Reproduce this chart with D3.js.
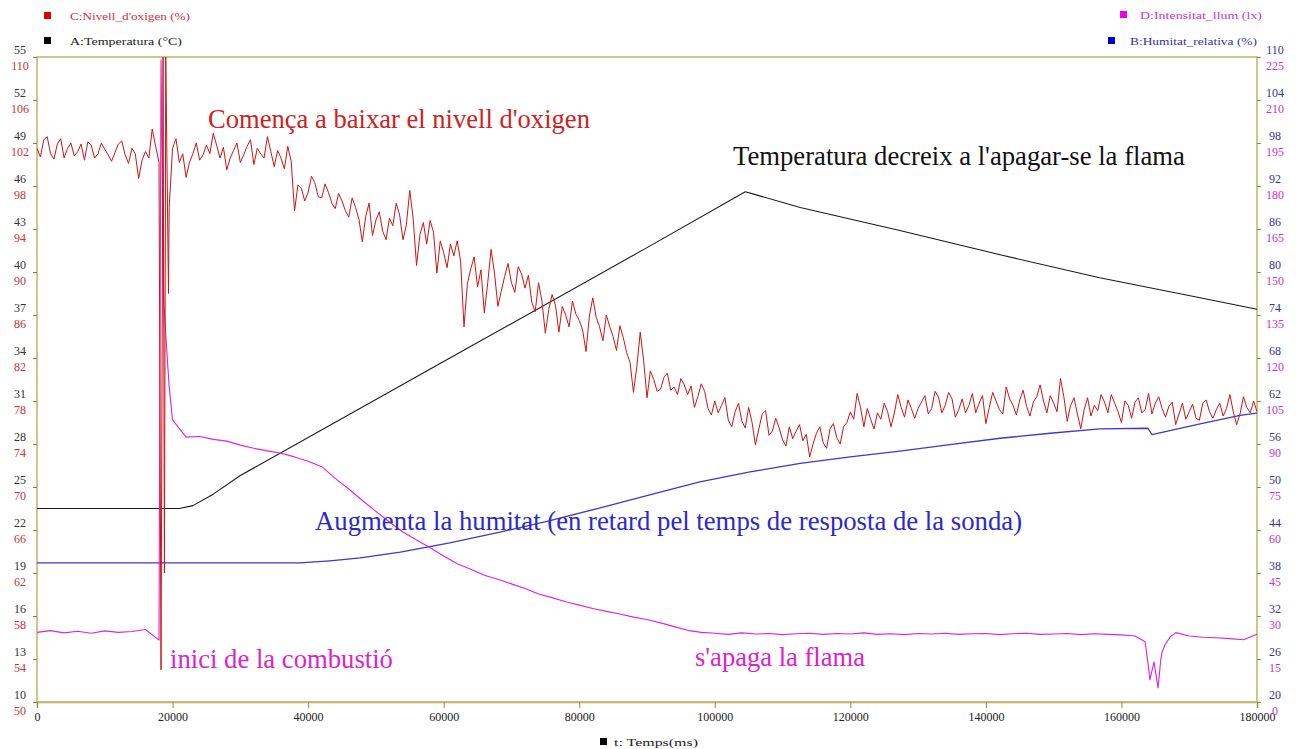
<!DOCTYPE html>
<html>
<head>
<meta charset="utf-8">
<title>Combustió d'una espelma</title>
<script src="https://d3js.org/d3.v7.min.js"></script>
<style>
  body { margin: 0; background: #fff; }
  svg { display: block; }
  .tick text { font-family: "Liberation Serif", serif; font-size: 12px; }
  .note { font-family: "Liberation Serif", "Times New Roman", serif; }
  .legend { font-family: "Liberation Serif", serif; font-size: 11px; }
</style>
</head>
<body>
<div id="chart"></div>
<script>
// ---- dades ----
var timeTicks = [0, 20000, 40000, 60000, 80000, 100000, 120000, 140000, 160000, 180000];
var tempTicks = [10, 13, 16, 19, 22, 25, 28, 31, 34, 37, 40, 43, 46, 49, 52, 55];
var oxyTicks  = [50, 54, 58, 62, 66, 70, 74, 78, 82, 86, 90, 94, 98, 102, 106, 110];
var humTicks  = [20, 26, 32, 38, 44, 50, 56, 62, 68, 74, 80, 86, 92, 98, 104, 110];
var luxTicks  = [0, 15, 30, 45, 60, 75, 90, 105, 120, 135, 150, 165, 180, 195, 210, 225];

// C: nivell d'oxigen (%), mostres a cada segon sencer
var oxyStep = 1000;
var oxygen = [
  101.5, 102.3, 101.0, 101.9, 100.6, 102.0, 101.2, 100.4, 101.8, 101.0,
  101.4, 100.3, 101.9, 100.9, 101.5, 98.7, 101.2, 103.3, 100.2, 110.0,
  101.5, 100.2, 98.8, 101.0, 100.4, 101.8, 102.9, 100.6, 99.5, 101.3,
  100.2, 101.7, 100.0, 101.0, 102.6, 99.8, 100.6, 101.7, 95.7, 97.8,
  97.4, 98.3, 96.9, 97.4, 95.9, 96.6, 95.1, 96.0, 92.8, 96.4,
  94.8, 93.8, 95.0, 96.4, 93.0, 97.6, 90.6, 94.6, 94.8, 89.9,
  91.8, 92.6, 92.9, 84.9, 90.3, 88.6, 86.2, 92.1, 86.8, 89.6,
  89.0, 90.5, 88.5, 87.2, 89.0, 84.3, 87.9, 84.4, 86.0, 87.3,
  85.5, 82.6, 87.6, 84.9, 86.0, 84.0, 85.0, 82.5, 78.8, 84.4,
  78.3, 80.0, 79.1, 80.6, 79.3, 80.1, 78.6, 77.4, 79.6, 77.3,
  78.0, 77.6, 76.2, 77.0, 76.1, 77.4, 73.9, 76.8, 74.8, 76.4,
  74.4, 75.6, 75.2, 74.3, 72.8, 75.0, 74.1, 75.4, 74.6, 75.6,
  77.0, 78.7, 75.6, 76.3, 76.9, 77.8, 75.6, 78.6, 76.5, 77.3,
  77.3, 78.5, 77.3, 78.4, 77.6, 78.2, 77.2, 76.9, 78.7, 77.8,
  75.9, 78.8, 77.2, 79.3, 77.6, 78.1, 77.5, 77.9, 79.5, 76.9,
  77.8, 80.1, 76.1, 78.3, 75.4, 78.3, 77.6, 78.6, 76.9, 77.8,
  76.0, 77.6, 77.9, 76.9, 78.7, 77.8, 77.3, 77.5, 75.8, 77.8,
  77.0, 76.4, 77.8, 77.0, 77.2, 76.6, 78.6, 75.8, 78.4, 76.9, 77.0
];
// mostres a cada mig segon (500, 1500, ...)
var oxygenHalf = [
  100.7, 102.6, 100.5, 102.4, 101.5, 100.8, 101.9, 102.1, 100.6, 102.0,
  100.9, 101.1, 102.2, 100.1, 101.0, 100.4, 100.6, 101.7, 90.0, 96.0,
  102.4, 101.0, 100.2, 102.0, 100.9, 101.0, 101.8, 101.6, 100.6, 102.0,
  100.9, 102.3, 101.5, 100.6, 101.2, 101.3, 99.6, 100.3, 98.1, 96.6,
  98.9, 97.0, 98.2, 96.4, 97.3, 95.7, 96.9, 94.9, 95.2, 93.4,
  95.6, 93.0, 94.3, 95.3, 94.4, 95.0, 93.5, 92.6, 93.7, 92.9,
  90.4, 91.5, 91.0, 88.9, 91.4, 90.2, 89.0, 89.9, 88.2, 90.8,
  88.1, 89.8, 89.7, 86.3, 87.3, 86.5, 86.9, 86.8, 84.9, 86.1,
  84.6, 85.9, 85.8, 83.6, 84.9, 82.7, 83.9, 81.6, 81.2, 81.8,
  80.8, 78.9, 80.2, 79.0, 78.6, 79.5, 79.4, 78.4, 78.9, 76.7,
  76.9, 78.3, 75.6, 77.8, 75.5, 76.0, 75.4, 77.1, 75.2, 75.5,
  73.8, 74.5, 75.8, 74.9, 74.0, 75.6, 73.6, 75.9, 74.0, 76.0,
  76.3, 77.4, 77.3, 75.4, 76.3, 77.0, 76.9, 77.4, 78.1, 76.4,
  77.9, 76.8, 78.9, 76.9, 78.8, 76.5, 78.2, 77.6, 76.9, 78.5,
  77.4, 78.0, 76.8, 78.2, 76.7, 79.0, 76.6, 78.4, 78.0, 78.5,
  77.0, 78.4, 77.6, 76.8, 77.2, 76.6, 77.1, 77.9, 78.6, 77.0,
  78.0, 76.4, 78.3, 77.2, 76.8, 78.4, 76.5, 77.9, 76.8, 76.3,
  77.7, 76.2, 78.1, 76.4, 77.8, 77.3, 77.0, 76.8, 77.4, 78.0
];
// mostres addicionals a l'inici de la combustió
var oxySpikeT = [18300, 18600, 18800, 19400];
var oxySpikeV = [53.0, 110.0, 62.0, 88.0];

// D: intensitat de llum (lx), una mostra cada 2 s
var lightStep = 2000;
var light = [
  24.3, 24.9, 24.1, 24.7, 24.0, 24.8, 24.3, 24.6, 25.3, 21.6,
  98.4, 92.4, 92.6, 91.6, 91.0, 89.6, 88.5, 87.6, 86.8, 85.5,
  84.0, 82.1, 78.0, 74.3, 70.3, 66.5, 62.8, 59.3, 56.5, 53.8,
  50.9, 48.2, 46.3, 44.2, 42.8, 41.2, 39.6, 37.7, 36.4, 35.0,
  33.8, 32.6, 31.6, 30.7, 29.6, 28.8, 27.6, 26.3, 25.0, 24.3,
  24.0, 23.6, 24.1, 23.7, 23.9, 23.5, 23.8, 24.0, 23.6, 23.9,
  23.7, 24.1, 23.6, 23.8, 23.5, 23.9, 23.7, 24.0, 23.6, 23.8,
  23.9, 23.5, 23.8, 24.0, 23.6, 23.7, 23.9, 23.5, 23.8, 23.6,
  23.4, 23.0, 12.0, 17.5, 24.2, 23.0, 22.6, 22.4, 22.1, 21.7, 23.6
];
var lightExtraT = [18300, 18700, 19000, 19500, 163500, 164200, 164800, 165400, 165800, 166400, 167200];
var lightExtraV = [224.0, 140.0, 128.0, 110.0, 21.0, 7.7, 14.0, 4.9, 14.7, 19.9, 22.7];

// A: temperatura (°C)
var tempT = [0, 21000, 23000, 26000, 30000, 60000, 90000, 104500, 106000, 112600, 127300, 142100, 156800, 171600, 180000];
var tempV = [23.5, 23.5, 23.7, 24.5, 25.8, 33.75, 41.7, 45.6, 45.4, 44.5, 42.9, 41.2, 39.6, 38.2, 37.4];

// B: humitat relativa (%)
var humT = [0, 38800, 43200, 47700, 53600, 60900, 68300, 75700, 83100, 90400, 97800, 105200,
            112600, 120000, 127300, 134700, 142100, 149500, 156800, 163900, 164500, 171600, 177500, 180000];
var humV = [39.4, 39.4, 39.7, 40.1, 40.9, 42.2, 43.7, 45.3, 47.1, 48.9, 50.7, 52.1,
            53.3, 54.2, 55.0, 55.9, 56.8, 57.5, 58.1, 58.2, 57.3, 58.8, 60.0, 60.3];

// ---- dibuix ----
var width = 1296, height = 749;
var plotLeft = 37, plotRight = 1257, plotTop = 57, plotBottom = 702;
var axisColor = "#bdb56a";

var svg = d3.select("#chart").append("svg")
    .attr("width", width)
    .attr("height", height);

var x = d3.scaleLinear().domain([0, 180000]).range([plotLeft, plotRight]);
var yTemp = d3.scaleLinear().domain([10, 55]).range([plotBottom, plotTop]);
var yOxy = d3.scaleLinear().domain([50, 110]).range([plotBottom, plotTop]);
var yHum = d3.scaleLinear().domain([20, 110]).range([plotBottom, plotTop]);
var yLux = d3.scaleLinear().domain([0, 225]).range([plotBottom, plotTop]);

function grid(values, start, step) {
  return values.map(function(v, i) { return [start + i * step, v]; });
}
function pairs(ts, vs) { return ts.map(function(t, i) { return [t, vs[i]]; }); }
function byTime(a, b) { return a[0] - b[0]; }

var oxyData = grid(oxygen, 0, oxyStep)
    .concat(grid(oxygenHalf, oxyStep / 2, oxyStep))
    .concat(pairs(oxySpikeT, oxySpikeV))
    .sort(byTime);
var lightData = grid(light, 0, lightStep)
    .concat(pairs(lightExtraT, lightExtraV))
    .sort(byTime);

// marc
svg.append("rect")
   .attr("x", plotLeft).attr("y", plotTop)
   .attr("width", plotRight - plotLeft).attr("height", plotBottom - plotTop)
   .attr("fill", "none")
   .attr("stroke", axisColor)
   .attr("stroke-width", 1.5);

// eix x
var gx = svg.append("g")
   .attr("transform", "translate(0," + plotBottom + ")")
   .call(d3.axisBottom(x).tickValues(timeTicks).tickSize(6).tickFormat(d3.format("d")));
gx.select(".domain").attr("stroke", axisColor).attr("stroke-width", 1.5);
gx.selectAll(".tick line").attr("stroke", "#8d8745");
gx.selectAll(".tick text").attr("fill", "#222").attr("y", 10);

// eixos laterals (valor fosc a dalt, segon valor a sota)
function sideAxis(axisFn, scale, ticks, xpos, color, dy, labelX, showTicks) {
  var g = svg.append("g")
     .attr("transform", "translate(" + xpos + ",0)")
     .call(axisFn(scale).tickValues(ticks).tickSize(showTicks ? 4 : 0));
  g.select(".domain").remove();
  g.selectAll(".tick line").attr("stroke", "#8d8745");
  g.selectAll(".tick text")
   .attr("x", labelX)
   .attr("dy", dy)
   .attr("text-anchor", "middle")
   .attr("fill", color);
  return g;
}
sideAxis(d3.axisLeft, yTemp, tempTicks, plotLeft, "#333", "-0.3em", -17, true);
sideAxis(d3.axisLeft, yOxy, oxyTicks, plotLeft, "#cc3333", "1.05em", -17, false);
sideAxis(d3.axisRight, yHum, humTicks, plotRight, "#34349a", "-0.3em", 18, true);
sideAxis(d3.axisRight, yLux, luxTicks, plotRight, "#cc33cc", "1.05em", 18, false);

// línies
function drawLine(data, yScale, color, w) {
  svg.append("path")
     .datum(data)
     .attr("fill", "none")
     .attr("stroke", color)
     .attr("stroke-width", w)
     .attr("stroke-linejoin", "round")
     .attr("d", d3.line().x(function(d) { return x(d[0]); }).y(function(d) { return yScale(d[1]); }));
}
drawLine(pairs(tempT, tempV), yTemp, "#1a1a1a", 1.1);
drawLine(pairs(humT, humV), yHum, "#3a3acc", 1.3);
drawLine(lightData, yLux, "#dd22dd", 1.1);
drawLine(oxyData, yOxy, "#cc1414", 1);

// llegendes
var legend = [
  { sq: [44, 12], tx: [70, 20], w: 120, c: "#e00000", tc: "#cc3333", s: "C:Nivell_d'oxigen (%)" },
  { sq: [44, 37], tx: [70, 45], w: 112, c: "#000", tc: "#222", s: "A:Temperatura (°C)" },
  { sq: [1120, 11], tx: [1140, 19], w: 122, c: "#ee00ee", tc: "#cc33cc", s: "D:Intensitat_llum (lx)" },
  { sq: [1108, 37], tx: [1130, 45], w: 127, c: "#0000cc", tc: "#3333aa", s: "B:Humitat_relativa (%)" },
  { sq: [600, 738], tx: [614, 746], w: 84, c: "#000", tc: "#222", s: "t: Temps(ms)" }
];
legend.forEach(function(l) {
  svg.append("rect").attr("x", l.sq[0]).attr("y", l.sq[1]).attr("width", 7).attr("height", 7).attr("fill", l.c);
  svg.append("text").attr("class", "legend")
     .attr("x", l.tx[0]).attr("y", l.tx[1])
     .attr("fill", l.tc)
     .attr("textLength", l.w).attr("lengthAdjust", "spacingAndGlyphs")
     .text(l.s);
});

// anotacions
var notes = [
  { s: "Comença a baixar el nivell d'oxigen", x: 208, y: 128, w: 382, c: "#cc2222" },
  { s: "Temperatura decreix a l'apagar-se la flama", x: 733, y: 165, w: 452, c: "#111" },
  { s: "Augmenta la humitat (en retard pel temps de resposta de la sonda)", x: 315, y: 530, w: 707, c: "#2a2acc" },
  { s: "inici de la combustió", x: 170, y: 668, w: 223, c: "#dd22cc" },
  { s: "s'apaga la flama", x: 695, y: 666, w: 170, c: "#dd22cc" }
];
notes.forEach(function(n) {
  var t = svg.append("text").attr("class", "note")
     .attr("x", n.x).attr("y", n.y)
     .attr("fill", n.c)
     .style("font-size", "24px")
     .text(n.s);
  var w = t.node().getComputedTextLength();
  t.style("font-size", (24 * n.w / w).toFixed(2) + "px");
});
</script>
</body>
</html>
